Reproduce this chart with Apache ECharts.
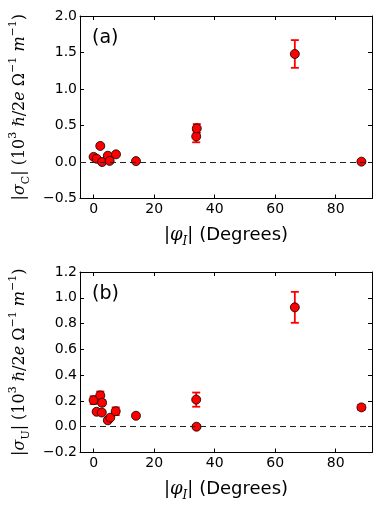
<!DOCTYPE html>
<html>
<head>
<meta charset="utf-8">
<script src="https://cdn.jsdelivr.net/npm/echarts@6/dist/echarts.min.js"></script>
<style>
  html, body { margin: 0; padding: 0; background: #fff; }
  #chart { width: 382px; height: 509px; }
</style>
</head>
<body>
<div id="chart"></div>
<script>
// panel (a): sigma_C vs |phi_I|
const anglesA = [0, 1, 2.2, 2.8, 4.7, 5.3, 7.4, 14, 33.9, 34.1, 66.5, 88.5];
const sigmaC  = [0.07, 0.045, 0.22, 0.0, 0.086, 0.015, 0.105, 0.012, 0.35, 0.46, 1.48, 0.005];
const errC    = [0.01, 0.01, 0.02, 0.01, 0.01, 0.01, 0.01, 0.01, 0.08, 0.06, 0.19, 0.005];

// panel (b): sigma_U vs |phi_I|
const anglesB = [0, 1, 2.2, 2.8, 2.7, 4.7, 5.5, 7.3, 14, 33.9, 34, 66.5, 88.5];
const sigmaU  = [0.206, 0.116, 0.243, 0.186, 0.11, 0.05, 0.07, 0.12, 0.085, 0.21, 0.0, 0.926, 0.15];
const errU    = [0.03, 0.01, 0.03, 0.02, 0.01, 0.01, 0.01, 0.03, 0.01, 0.055, 0.01, 0.12, 0.02];

const xTicks = [0, 20, 40, 60, 80];
const yTicksA = [-0.5, 0.0, 0.5, 1.0, 1.5, 2.0];
const yTicksB = [-0.2, 0.0, 0.2, 0.4, 0.6, 0.8, 1.0, 1.2];

const fmt = v => (v < 0 ? '\u2212' : '') + Math.abs(v).toFixed(1);

const richY = {
  s: { fontFamily: 'DejaVu Serif', fontSize: 16, color: '#000', lineHeight: 24 },
  i: { fontFamily: 'DejaVu Serif', fontStyle: 'italic', fontSize: 16, color: '#000', lineHeight: 24 },
  sub: { fontFamily: 'DejaVu Serif', fontSize: 11, color: '#000', verticalAlign: 'bottom', lineHeight: 24 },
  sup: { fontFamily: 'DejaVu Serif', fontSize: 11, color: '#000', verticalAlign: 'top', lineHeight: 24 }
};
const richX = {
  n: { fontFamily: 'DejaVu Sans', fontSize: 18, color: '#000', lineHeight: 24 },
  i: { fontFamily: 'DejaVu Serif', fontStyle: 'italic', fontSize: 18, color: '#000', lineHeight: 24 },
  isub: { fontFamily: 'DejaVu Serif', fontStyle: 'italic', fontSize: 12, color: '#000', verticalAlign: 'bottom', lineHeight: 24 }
};

const toRich = s => s.replace(/\{(\w+):/g, '{$1|');

function yName(sym) {
  return toRich('{s:|}{i:σ}{sub:' + sym + '}{s:| (10}{sup:3}{s: }{i:ℏ}{s:/2}{i:e}{s: Ω}{sup:−1}{i: m}{sup:−1}{s:)}');
}
const xName = toRich('{n:|}{i:φ}{isub:I}{n:| (Degrees)}');

function errBars(xs, ys, es) {
  return xs.map((x, k) => [x, ys[k] - es[k], ys[k] + es[k]]);
}

function renderErr(params, api) {
  const lo = api.coord([api.value(0), api.value(1)]);
  const hi = api.coord([api.value(0), api.value(2)]);
  const w = 4;
  const st = { stroke: '#ff0000', lineWidth: 1.8 };
  return {
    type: 'group',
    children: [
      { type: 'line', shape: { x1: lo[0], y1: lo[1], x2: hi[0], y2: hi[1] }, style: st },
      { type: 'line', shape: { x1: lo[0] - w, y1: lo[1], x2: lo[0] + w, y2: lo[1] }, style: st },
      { type: 'line', shape: { x1: hi[0] - w, y1: hi[1], x2: hi[0] + w, y2: hi[1] }, style: st }
    ]
  };
}

const axisLine = { show: true, onZero: false, lineStyle: { color: '#000', width: 1 } };
const tickIn = { show: true, inside: true, length: 4, lineStyle: { color: '#000' } };
const tickLabel = { fontFamily: 'DejaVu Sans', fontSize: 14, color: '#000' };

function xAxes(gi) {
  return [
    {
      gridIndex: gi, type: 'value', min: -4.5, max: 92,
      axisLine, splitLine: { show: false },
      axisTick: Object.assign({ customValues: xTicks }, tickIn),
      axisLabel: Object.assign({ customValues: xTicks, margin: 4 }, tickLabel),
      name: xName, nameLocation: 'middle', nameGap: 25,
      nameTextStyle: { rich: richX }
    },
    {
      gridIndex: gi, type: 'value', position: 'top', min: -4.5, max: 92,
      axisLine, splitLine: { show: false },
      axisTick: Object.assign({ customValues: xTicks }, tickIn),
      axisLabel: { show: false, customValues: xTicks }
    }
  ];
}

function yAxes(gi, min, max, ticks, sym) {
  return [
    {
      gridIndex: gi, type: 'value', min, max,
      axisLine, splitLine: { show: false },
      axisTick: Object.assign({ customValues: ticks }, tickIn),
      axisLabel: Object.assign({ customValues: ticks, formatter: fmt, margin: 3 }, tickLabel),
      name: yName(sym), nameLocation: 'middle', nameRotate: 90, nameGap: 39,
      nameTextStyle: { rich: richY }
    },
    {
      gridIndex: gi, type: 'value', position: 'right', min, max,
      axisLine, splitLine: { show: false },
      axisTick: Object.assign({ customValues: ticks }, tickIn),
      axisLabel: { show: false, customValues: ticks }
    }
  ];
}

function panelSeries(xi, yi, xs, ys, es) {
  return [
    {
      type: 'custom', xAxisIndex: xi, yAxisIndex: yi,
      renderItem: renderErr, data: errBars(xs, ys, es), z: 2,
      markLine: {
        silent: true, symbol: 'none', label: { show: false },
        lineStyle: { color: '#222', type: [6, 4], width: 1 },
        data: [{ yAxis: 0 }]
      }
    },
    {
      type: 'scatter', xAxisIndex: xi, yAxisIndex: yi,
      symbolSize: 9,
      itemStyle: { color: '#ff0000', borderColor: '#000', borderWidth: 0.8, opacity: 1 },
      data: xs.map((x, k) => [x, ys[k]]), z: 3
    }
  ];
}

const chart = echarts.init(document.getElementById('chart'), null, { renderer: 'canvas' });
chart.setOption({
  animation: false,
  backgroundColor: '#fff',
  grid: [
    { left: 80, right: 10, top: 16, height: 182.5 },
    { left: 80, right: 10, top: 272, height: 180.5 }
  ],
  xAxis: [...xAxes(0), ...xAxes(1)],
  yAxis: [...yAxes(0, -0.5, 2.0, yTicksA, 'C'), ...yAxes(1, -0.2, 1.2, yTicksB, 'U')],
  graphic: [
    { type: 'text', left: 92, top: 29, style: { text: '(a)', font: '19px DejaVu Sans', fill: '#000' } },
    { type: 'text', left: 92, top: 285, style: { text: '(b)', font: '19px DejaVu Sans', fill: '#000' } }
  ],
  series: [
    ...panelSeries(0, 0, anglesA, sigmaC, errC),
    ...panelSeries(2, 2, anglesB, sigmaU, errU)
  ]
});
</script>
</body>
</html>
